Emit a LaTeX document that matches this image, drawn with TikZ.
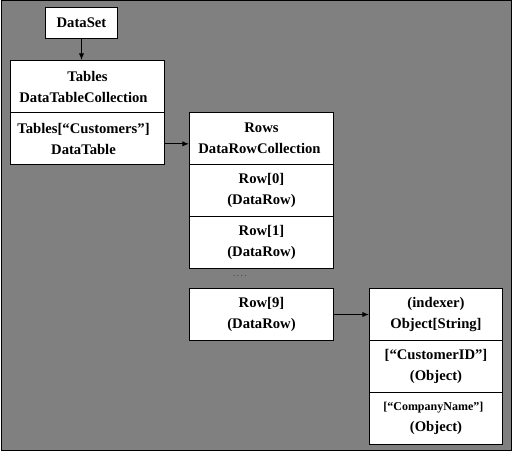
\documentclass[tikz,border=0pt]{standalone}
\usepackage{fontspec}
\setmainfont{Liberation Serif}
\usetikzlibrary{arrows.meta}
\definecolor{bggray}{RGB}{128,128,128}
\tikzset{every picture/.style={line width=0.75pt}}
\tikzset{
  cell/.style={draw, fill=white, anchor=north west, inner sep=0pt, align=center,
    minimum height=39pt, font=\fontsize{11}{15.75}\selectfont\bfseries},
  link/.style={-{Latex[length=5pt,width=4pt]}},
}

\begin{document}
\begin{tikzpicture}[x=0.75pt,y=0.75pt,yscale=-1,xscale=1]
\useasboundingbox (0,0) rectangle (514,452);

%Shape: Rectangle [background]
\draw [fill=bggray] (1,1) rectangle (511.5,450.5);

% DataSet
\node (dataset) [cell, minimum width=54pt, minimum height=23.25pt] at (45,7) {DataSet};
% Tables
\node (tables) [cell, minimum width=115.5pt] at (10,60) {Tables\\DataTableCollection\hspace*{6pt}};
\node (customers) [cell, minimum width=115.5pt] at (10,112) {Tables[“Customers”]\hspace*{6pt}\\DataTable\hspace*{6pt}};
% Rows
\node (rows) [cell, minimum width=108pt] at (189,112) {Rows\\DataRowCollection\hspace*{3pt}};
\node (row0) [cell, minimum width=108pt] at (189,164) {Row[0]\\(DataRow)};
\node (row1) [cell, minimum width=108pt] at (189,216) {Row[1]\\(DataRow)};
% Text Node
\node (dots) [font=\tiny] at (240,276) {. . . .};
\node (row9) [cell, minimum width=108pt] at (189,288) {Row[9]\\(DataRow)};
% Object
\node (indexer) [cell, minimum width=99.75pt] at (369,288) {(indexer)\\Object[String]};
\node (custid) [cell, minimum width=99.75pt] at (369,340) {[“CustomerID”]\\(Object)};
\node (compname) [cell, minimum width=99.75pt] at (369,392) {{\fontsize{9}{15.75}\selectfont[“CompanyName”]}\hspace*{4pt}\\(Object)};

%Straight Lines
\draw [link] (dataset.south) -- (dataset.south |- tables.north);
\draw [link] ([yshift=4pt]customers.east) -- ([yshift=4pt]customers.east -| rows.west);
\draw [link] (row9.east) -- (indexer.west);

\end{tikzpicture}
\end{document}
